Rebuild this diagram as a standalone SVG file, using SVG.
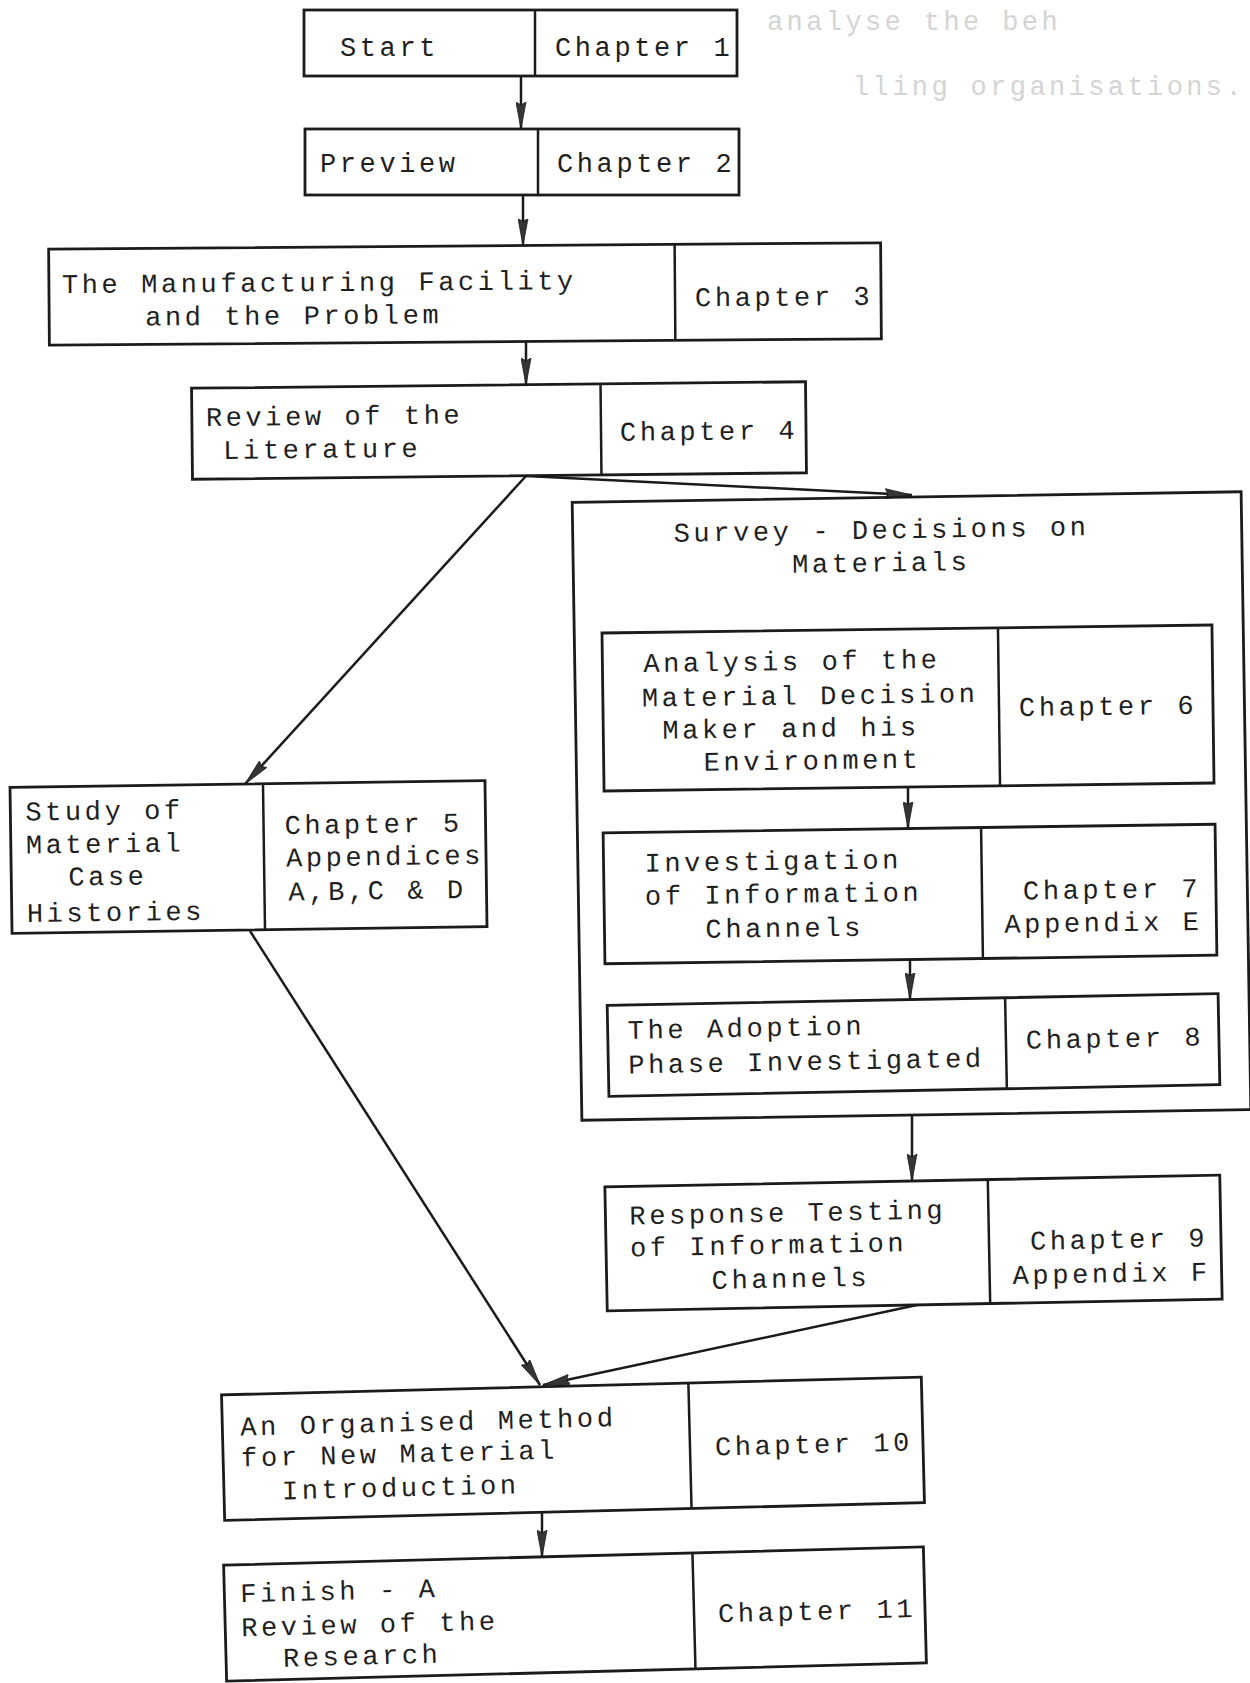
<svg xmlns="http://www.w3.org/2000/svg" width="1250" height="1683" viewBox="0 0 1250 1683">
<style>
.bg{fill:#ffffff}
.box{fill:none;stroke:#1b1b1b;stroke-width:2.8}
.dv{stroke:#1b1b1b;stroke-width:2.5}
.t{font-family:"Liberation Mono","DejaVu Sans Mono",monospace;font-size:27px;letter-spacing:3.6px;fill:#1f1f1f}
.ghost{font-family:"Liberation Mono","DejaVu Sans Mono",monospace;font-size:27px;letter-spacing:3.4px;fill:#d4d4d4}
.conn line{stroke:#1b1b1b;stroke-width:2.5;fill:none;marker-end:url(#ah)}
</style>
<defs>
<marker id="ah" markerUnits="userSpaceOnUse" viewBox="0 0 27 11" refX="27" refY="5.5" markerWidth="27" markerHeight="11" orient="auto">
<path d="M0,0.5 L27,5.5 L0,10.5 L3,5.5 Z" fill="#353535" stroke="#1b1b1b" stroke-width="0.8"/>
</marker>
</defs>
<rect class="bg" x="0" y="0" width="1250" height="1683"/>

<g id="ghost-text">
<text class="ghost" x="767" y="30">analyse the beh</text>
<text class="ghost" x="853" y="95">lling organisations.</text>
</g>

<g id="connectors" class="conn">
<line x1="521" y1="76" x2="521" y2="129"/>
<line x1="523" y1="195" x2="523" y2="245.5"/>
<line x1="526" y1="341.5" x2="526" y2="385"/>
<line x1="526" y1="476" x2="245" y2="784"/>
<line x1="526" y1="476" x2="912" y2="495"/>
<line x1="908" y1="787" x2="908" y2="828.5"/>
<line x1="910" y1="959.5" x2="910" y2="999.5"/>
<line x1="912" y1="1115" x2="912" y2="1181"/>
<line x1="917" y1="1305" x2="543" y2="1385"/>
<line x1="250" y1="931" x2="540" y2="1385"/>
<line x1="542" y1="1512.3" x2="542" y2="1557"/>
</g>

<g id="n-start">
<rect class="box" x="304" y="10" width="433" height="66"/>
<line class="dv" x1="535" y1="10" x2="535" y2="76"/>
<text class="t" x="340" y="56">Start</text>
<text class="t" x="555" y="56">Chapter 1</text>
</g>

<g id="n-preview">
<rect class="box" x="305" y="129" width="434" height="66"/>
<line class="dv" x1="538" y1="129" x2="538" y2="195"/>
<text class="t" x="320" y="172">Preview</text>
<text class="t" x="557" y="172">Chapter 2</text>
</g>

<g id="n-manufacturing" transform="rotate(-0.44 465 294)">
<rect class="box" x="49" y="246" width="832" height="96"/>
<line class="dv" x1="675" y1="246" x2="675" y2="342"/>
<text class="t" x="62" y="290">The Manufacturing Facility</text>
<text class="t" x="145" y="323">and the Problem</text>
<text class="t" x="695" y="308">Chapter 3</text>
</g>

<g id="n-review" transform="rotate(-0.6 499 430.5)">
<rect class="box" x="192" y="385" width="614" height="91"/>
<line class="dv" x1="601" y1="385" x2="601" y2="476"/>
<text class="t" x="206" y="423">Review of the</text>
<text class="t" x="223" y="456">Literature</text>
<text class="t" x="620" y="442">Chapter 4</text>
</g>

<g id="n-survey" transform="rotate(-0.9 911.5 806)">
<rect class="box" x="577" y="497" width="669" height="618"/>
<text class="t" x="678" y="538">Survey - Decisions on</text>
<text class="t" x="796" y="571">Materials</text>
</g>

<g id="n-analysis" transform="rotate(-0.75 908 708)">
<rect class="box" x="603" y="629" width="610" height="158"/>
<line class="dv" x1="999" y1="629" x2="999" y2="787"/>
<text class="t" x="644" y="668.5">Analysis of the</text>
<text class="t" x="642" y="703">Material Decision</text>
<text class="t" x="662" y="735.5">Maker and his</text>
<text class="t" x="703" y="768">Environment</text>
<text class="t" x="1019" y="717.5">Chapter 6</text>
</g>

<g id="n-investigation" transform="rotate(-0.8 910 894)">
<rect class="box" x="604" y="828.5" width="612" height="131"/>
<line class="dv" x1="982" y1="828.5" x2="982" y2="959.5"/>
<text class="t" x="645" y="868">Investigation</text>
<text class="t" x="645" y="901">of Information</text>
<text class="t" x="705" y="935">Channels</text>
<text class="t" x="1023" y="901">Chapter 7</text>
<text class="t" x="1004" y="934">Appendix E</text>
</g>

<g id="n-adoption" transform="rotate(-1.1 913.5 1045)">
<rect class="box" x="608" y="999.5" width="611" height="91"/>
<line class="dv" x1="1006" y1="999.5" x2="1006" y2="1090.5"/>
<text class="t" x="628" y="1033.5">The Adoption</text>
<text class="t" x="628" y="1068">Phase Investigated</text>
<text class="t" x="1026" y="1051">Chapter 8</text>
</g>

<g id="n-response" transform="rotate(-1.1 913.5 1243)">
<rect class="box" x="606" y="1181" width="615" height="124"/>
<line class="dv" x1="989" y1="1181" x2="989" y2="1305"/>
<text class="t" x="630" y="1219">Response Testing</text>
<text class="t" x="630" y="1251">of Information</text>
<text class="t" x="711" y="1285">Channels</text>
<text class="t" x="1030" y="1252">Chapter 9</text>
<text class="t" x="1012" y="1286">Appendix F</text>
</g>

<g id="n-study" transform="rotate(-0.8 248.5 857)">
<rect class="box" x="11" y="784" width="475" height="146"/>
<line class="dv" x1="264" y1="784" x2="264" y2="930"/>
<text class="t" x="26" y="817.5">Study of</text>
<text class="t" x="26" y="850.5">Material</text>
<text class="t" x="68" y="883">Case</text>
<text class="t" x="26" y="919">Histories</text>
<text class="t" x="285" y="834.5">Chapter 5</text>
<text class="t" x="286" y="867">Appendices</text>
<text class="t" x="288" y="901">A,B,C &amp; D</text>
</g>

<g id="n-organised" transform="rotate(-1.45 573 1449)">
<rect class="box" x="223" y="1386" width="700" height="125.5"/>
<line class="dv" x1="690" y1="1386" x2="690" y2="1511.5"/>
<text class="t" x="241" y="1427">An Organised Method</text>
<text class="t" x="241" y="1458">for New Material</text>
<text class="t" x="281" y="1492">Introduction</text>
<text class="t" x="715" y="1459">Chapter 10</text>
</g>

<g id="n-finish" transform="rotate(-1.5 575 1614)">
<rect class="box" x="225" y="1556" width="700" height="116"/>
<line class="dv" x1="694" y1="1556" x2="694" y2="1672"/>
<text class="t" x="241" y="1593.5">Finish - A</text>
<text class="t" x="241" y="1627.5">Review of the</text>
<text class="t" x="282" y="1659">Research</text>
<text class="t" x="718" y="1626">Chapter 11</text>
</g>
</svg>
